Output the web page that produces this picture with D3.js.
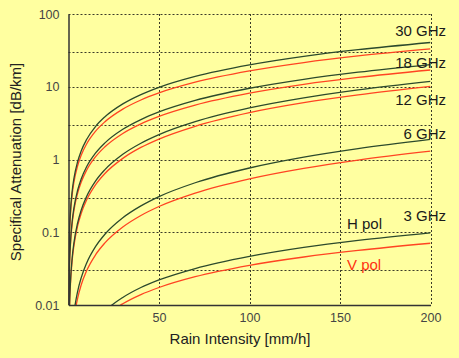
<!DOCTYPE html>
<html><head><meta charset="utf-8">
<script src="https://cdn.jsdelivr.net/npm/d3@7"></script>
<style>
html,body{margin:0;padding:0;background:#ffffa0;}
svg{display:block;font-family:"Liberation Sans","DejaVu Sans",sans-serif;}
</style></head>
<body><svg id="c" width="459" height="358"></svg>
<script>
// Rain intensity [mm/h]
const rain = [0.05, 0.5, 1, 2, 3, 5, 7, 10, 15, 20, 30, 40, 50, 70, 100, 130, 160, 200];
// Specific attenuation [dB/km], H and V polarisation
const h30 = [0.0083, 0.087, 0.178, 0.362, 0.549, 0.926, 1.31, 1.88, 2.86, 3.84, 5.81, 7.81, 9.81, 13.85, 19.97, 26.15, 32.3, 40.6];
const v30 = [0.0080, 0.081, 0.162, 0.325, 0.488, 0.815, 1.143, 1.635, 2.456, 3.28, 4.93, 6.58, 8.23, 11.54, 16.5, 21.5, 26.5, 33.1];
const h18 = [0.0026, 0.0312, 0.066, 0.1395, 0.216, 0.375, 0.540, 0.793, 1.23, 1.68, 2.60, 3.54, 4.51, 6.49, 9.54, 12.67, 15.85, 20.2];
const v18 = [0.0026, 0.0297, 0.062, 0.129, 0.199, 0.341, 0.488, 0.712, 1.094, 1.485, 2.28, 3.09, 3.92, 5.60, 8.17, 10.8, 13.45, 17.0];
const h12 = [0.00049, 0.0081, 0.0188, 0.0437, 0.0716, 0.133, 0.201, 0.310, 0.508, 0.720, 1.18, 1.675, 2.20, 3.31, 5.11, 7.03, 9.04, 11.87];
const v12 = [0.00048, 0.0076, 0.0175, 0.0402, 0.0654, 0.121, 0.181, 0.277, 0.451, 0.637, 1.036, 1.465, 1.91, 2.86, 4.40, 6.03, 7.72, 10.1];
const h6  = [0.00004, 0.00075, 0.00185, 0.00458, 0.00779, 0.0152, 0.0236, 0.0376, 0.0639, 0.0931, 0.158, 0.230, 0.309, 0.479, 0.764, 1.077, 1.41, 1.89];
const v6  = [0.00004, 0.00067, 0.0016, 0.00385, 0.00642, 0.0122, 0.0188, 0.0295, 0.0492, 0.0708, 0.118, 0.170, 0.226, 0.345, 0.542, 0.756, 0.982, 1.30];
const h3  = [0.00001, 0.00016, 0.00033, 0.00069, 0.00107, 0.0018, 0.0027, 0.0039, 0.00605, 0.00824, 0.0127, 0.0174, 0.0221, 0.0317, 0.0465, 0.0618, 0.0772, 0.0981];
const v3  = [0.00001, 0.00017, 0.00034, 0.00068, 0.00102, 0.0017, 0.0024, 0.00344, 0.00518, 0.00693, 0.0104, 0.0139, 0.0174, 0.0245, 0.0351, 0.0457, 0.0563, 0.0706];
const hSeries = [h30, h18, h12, h6, h3];
const vSeries = [v30, v18, v12, v6, v3];
const freqLabels = ["30 GHz", "18 GHz", "12 GHz", "6 GHz", "3 GHz"];
const xTicks = [50, 100, 150, 200];
const yTicks = [0.01, 0.1, 1, 10, 100];
const yTickLabels = ["0.01", "0.1", "1", "10", "100"];
const yGrid = [0.03, 0.1, 0.3, 1, 3, 10, 30, 100];

const svg = d3.select("#c");
const W = 459, H = 358;
svg.append("rect").attr("width", W).attr("height", H).attr("fill", "#ffffa0");

const x = d3.scaleLinear().domain([0, 200]).range([68.5, 430.5]);
const y = d3.scaleLog().domain([0.01, 100]).range([305, 14]);

const gridCol = "#3a3a28";
// horizontal grid
svg.append("g").selectAll("line").data(yGrid).join("line")
  .attr("x1", x(0)).attr("x2", x(200))
  .attr("y1", d => Math.round(y(d)) + 0.5).attr("y2", d => Math.round(y(d)) + 0.5)
  .attr("stroke", gridCol).attr("stroke-width", 1).attr("stroke-dasharray", "2,2");
// vertical grid
svg.append("g").selectAll("line").data(xTicks).join("line")
  .attr("x1", d => Math.round(x(d)) + 0.5).attr("x2", d => Math.round(x(d)) + 0.5)
  .attr("y1", y(100)).attr("y2", y(0.01))
  .attr("stroke", gridCol).attr("stroke-width", 1).attr("stroke-dasharray", "2,2");

// clip
svg.append("clipPath").attr("id", "clip").append("rect")
  .attr("x", x(0)).attr("y", y(100)).attr("width", x(200) - x(0)).attr("height", y(0.01) - y(100));

const line = d3.line().x((d, i) => x(rain[i])).y(d => y(d)).curve(d3.curveMonotoneX);
const plot = svg.append("g").attr("clip-path", "url(#clip)");
plot.selectAll("path.v").data(vSeries).join("path").attr("class", "v")
  .attr("d", line).attr("fill", "none").attr("stroke", "#ff4422").attr("stroke-width", 1.3);
plot.selectAll("path.h").data(hSeries).join("path").attr("class", "h")
  .attr("d", line).attr("fill", "none").attr("stroke", "#2c4a2c").attr("stroke-width", 1.3);

// axes (solid left & bottom)
const xAxis = d3.axisBottom(x).tickValues(xTicks).tickSize(0).tickPadding(8);
const gx = svg.append("g").attr("transform", `translate(0,${y(0.01)})`).call(xAxis);
gx.select(".domain").attr("stroke", "#333").attr("stroke-width", 1.5);
gx.selectAll("text").attr("font-size", 12.5).attr("fill", "#444").attr("font-family", "Liberation Sans, DejaVu Sans, sans-serif");

const yAxis = d3.axisLeft(y).tickValues(yTicks).tickFormat((d, i) => yTickLabels[i]).tickSize(0).tickPadding(9);
const gy = svg.append("g").attr("transform", `translate(${x(0)},0)`).call(yAxis);
gy.select(".domain").attr("stroke", "#333").attr("stroke-width", 1.5);
gy.selectAll("text").attr("font-size", 12.5).attr("fill", "#444").attr("font-family", "Liberation Sans, DejaVu Sans, sans-serif");

// titles
svg.append("text").attr("x", 240).attr("y", 344).attr("text-anchor", "middle")
  .attr("font-size", 15).attr("fill", "#222").text("Rain Intensity [mm/h]");
svg.append("text").attr("transform", "translate(21,162) rotate(-90)").attr("text-anchor", "middle")
  .attr("font-size", 15).attr("fill", "#222").text("Specifical Attenuation [dB/km]");

// frequency labels
const labelY = [31, 63, 100, 134, 216];
svg.append("g").selectAll("text").data(freqLabels).join("text")
  .attr("x", 446).attr("y", (d, i) => labelY[i]).attr("dy", "0.36em")
  .attr("text-anchor", "end").attr("font-size", 15).attr("fill", "#1a1a1a").text(d => d);
svg.append("text").attr("x", 347).attr("y", 224).attr("dy", "0.36em")
  .attr("font-size", 15).attr("fill", "#1a1a1a").text("H pol");
svg.append("text").attr("x", 347).attr("y", 265).attr("dy", "0.36em")
  .attr("font-size", 15).attr("fill", "#ff3311").text("V pol");
</script></body></html>
